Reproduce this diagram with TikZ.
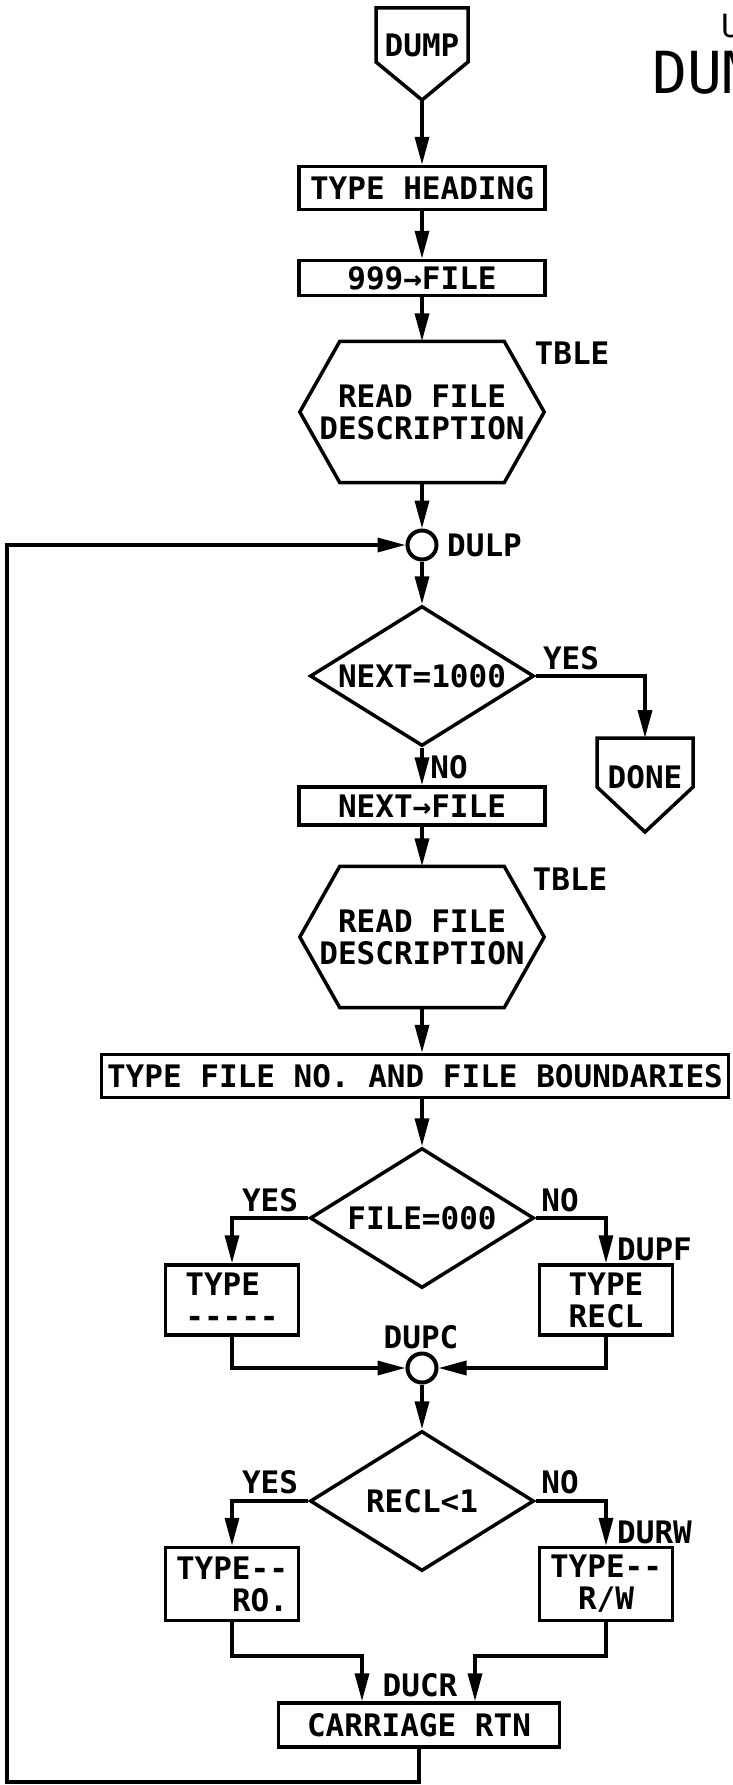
\documentclass[tikz,border=0pt]{standalone}
\usepackage{fontspec}
\setmonofont{DejaVu Sans Mono}
\usetikzlibrary{shapes.geometric, arrows.meta}

\tikzset{
  txt/.style={font=\ttfamily\bfseries\fontsize{31}{32}\selectfont, inner sep=0pt},
  line/.style={line width=3.5pt},
  arr/.style={line, -{Triangle[length=28pt,width=14pt]}},
  box/.style={txt, draw, line width=3.5pt, minimum width=246pt},
  decision/.style={txt, diamond, draw, line width=3.5pt, aspect=1.6,
    minimum width=224pt, minimum height=140pt},
  joint/.style={circle, draw, line width=4pt, minimum size=29pt, inner sep=0pt},
  hexa/.style={txt, align=center, minimum width=244pt, minimum height=141pt},
}
% hexagon drawn round a (borderless) node
\newcommand{\hexbox}[1]{%
  \draw[line] ([xshift=40pt]#1.north west) -- ([xshift=-40pt]#1.north east) -- (#1.east)
    -- ([xshift=-40pt]#1.south east) -- ([xshift=40pt]#1.south west) -- (#1.west) -- cycle;}

\begin{document}
\begin{tikzpicture}[x=1pt, y=-1pt]
\path[use as bounding box, clip] (0,0) rectangle (733,1785);

% sheet heading, cut by the edge
\node[font=\ttfamily\fontsize{32}{32}\selectfont, anchor=base west, inner sep=0pt] (subtitle) at (721,38) {U};
\node[font=\ttfamily\fontsize{58}{58}\selectfont, anchor=base west, inner sep=0pt] (title) at (652,93) {DUMP};

% entry
\draw[line] (376,8) -- (468,8) -- (468,62) -- (422,100) -- (376,62) -- cycle;
\node[txt] (dump) at (422,45) {DUMP};
\coordinate (dumptip) at (422,100);

\node[box, minimum height=43pt] (head) at (422,188) {TYPE HEADING};
\node[box, minimum height=35pt] (setfile) at (422,278) {999→FILE};
\node[hexa] (read1) at (422,412) {READ FILE\\DESCRIPTION};
\hexbox{read1}
\node[txt] (tble1) at (572,353) {TBLE};

\node[joint] (dulp) at (422,545) {};
\node[txt, anchor=west] (dulplbl) at (447,545) {DULP};

\node[decision] (test1) at (422,676) {NEXT=1000};
\node[txt] (yes1) at (571,658) {YES};
\node[txt] (no1) at (449,767) {NO};

% exit
\draw[line] (597,738) -- (693,738) -- (693,787) -- (645,832) -- (597,787) -- cycle;
\node[txt] (done) at (645,777) {DONE};
\coordinate (donetop) at (645,738);

\node[box, minimum height=38pt] (nextfile) at (422,806) {NEXT→FILE};
\node[hexa] (read2) at (422,937) {READ FILE\\DESCRIPTION};
\hexbox{read2}
\node[txt] (tble2) at (570,879) {TBLE};

\node[box, minimum width=627pt, minimum height=43pt] (bound) at (415,1076) {TYPE FILE NO. AND FILE BOUNDARIES};

\node[decision] (test2) at (422,1218) {FILE=000};
\node[txt] (yes2) at (270,1200) {YES};
\node[txt] (no2) at (560,1200) {NO};
\node[box, minimum width=133pt, minimum height=70pt, align=left] (typeblank) at (232,1300) {TYPE\\-----};
\node[box, minimum width=133pt, minimum height=70pt, align=center] (typerecl) at (606,1300) {TYPE\\RECL};
\node[txt, anchor=west] (dupf) at (617,1249) {DUPF};

\node[joint] (dupc) at (422,1368) {};
\node[txt] (dupclbl) at (421,1337) {DUPC};

\node[decision] (test3) at (422,1501) {RECL<1};
\node[txt] (yes3) at (270,1482) {YES};
\node[txt] (no3) at (560,1482) {NO};
\node[box, minimum width=133pt, minimum height=73pt, align=right] (typero) at (232,1584) {TYPE--\\RO.};
\node[box, minimum width=133pt, minimum height=73pt, align=center] (typerw) at (606,1584) {TYPE--\\R/W};
\node[txt, anchor=west] (durw) at (617,1532) {DURW};

\node[box, minimum width=281pt, minimum height=44pt] (crtn) at (419,1725) {CARRIAGE RTN};
\node[txt] (ducr) at (420,1685) {DUCR};

\coordinate (jl) at (362,1656);
\coordinate (jr) at (475,1656);
\coordinate (loopbot) at (7,1782);

% connectors
\draw[arr] (dumptip) -- (head);
\draw[arr] (head) -- (setfile);
\draw[arr] (setfile) -- (read1);
\draw[arr] (read1) -- (dulp);
\draw[arr] (dulp) -- (test1);
\draw[arr] (test1.east) -| (donetop);
\draw[arr] (test1) -- (nextfile);
\draw[arr] (nextfile) -- (read2);
\draw[arr] (read2) -- (bound.north -| read2);
\draw[arr] (bound.south -| test2) -- (test2);
\draw[arr] (test2.west) -| (typeblank);
\draw[arr] (test2.east) -| (typerecl);
\draw[arr] (typeblank) |- (dupc);
\draw[arr] (typerecl) |- (dupc);
\draw[arr] (dupc) -- (test3);
\draw[arr] (test3.west) -| (typero);
\draw[arr] (test3.east) -| (typerw);
\draw[arr] (typero.south) |- (jl) -- (jl |- crtn.north);
\draw[arr] (typerw.south) |- (jr) -- (jr |- crtn.north);
\draw[arr] (crtn.south) |- (loopbot) |- (dulp.west);
\end{tikzpicture}
\end{document}
